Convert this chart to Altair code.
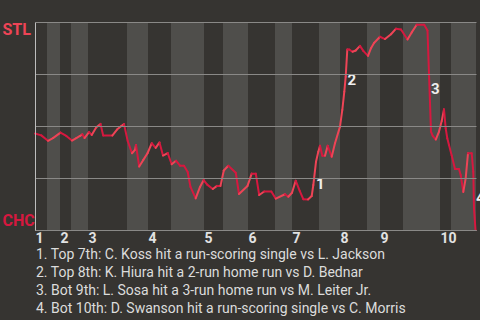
import altair as alt
import pandas as pd

# ---- data ----
inning_labels = ["1", "2", "3", "4", "5", "6", "7", "8", "9", "10"]
inning_start = [0, 25, 53, 113, 169, 213, 257, 305, 345, 405]
bottom_start = [12, 36, 92, 136, 188, 240, 284, 332, 368, 416]
game_end = 441

# game progress (plays) and St. Louis win probability (%)
wp_x = [0, 6.3, 13, 18, 25.5, 31.3, 37, 41.3, 45, 47.3, 49.5, 54, 56.7, 61.3, 65.5,
        68.2, 77.3, 82, 86.3, 89, 92.7, 97, 100, 101, 104.2, 108.3, 112.5, 116.7,
        120.7, 124.5, 128, 132.7, 136.7, 141, 145, 149, 152.7, 155.5, 160.7, 165,
        168.7, 172.2, 177.8, 182, 185.5, 188.8, 193.3, 200.8, 204, 212.5, 216.7,
        220.8, 224.2, 229.2, 236.3, 240.8, 250, 253.3, 257, 260.7, 264.7, 268.3,
        273, 276.7, 278.3, 281, 283.3, 285, 287.3, 290, 292.7, 296.7, 300, 305,
        307.3, 309.3, 310.7, 312.3, 314, 317.5, 320.7, 325, 328.3, 333, 336, 339,
        345, 350, 356, 361, 366, 372.5, 376.7, 381.7, 389.2, 392.5, 396, 397.7,
        400.8, 404, 406.7, 409, 410.7, 412.3, 414, 416.7, 420, 424, 425.7, 428.3,
        430.7, 433, 436.7, 438.3, 439, 440.5]
wp_stl = [46.4, 45.5, 42.9, 44.2, 46.8, 45.2, 43.0, 44.2, 45.2, 46.0, 44.2, 47.1,
          45.7, 49.4, 51.0, 45.4, 45.4, 48.3, 50.0, 50.9, 42.8, 36.9, 38.5, 40.9,
          30.5, 33.7, 36.9, 41.7, 39.5, 42.1, 35.8, 37.0, 31.6, 33.3, 30.9, 30.9,
          27.9, 20.7, 15.2, 20.7, 24.0, 21.8, 19.7, 21.2, 21.2, 28.6, 30.9, 27.5,
          17.3, 21.2, 27.1, 27.1, 16.8, 18.5, 18.5, 15.1, 17.2, 16.0, 17.9, 23.7,
          18.8, 14.8, 14.7, 16.3, 21.6, 32.8, 37.6, 40.5, 35.7, 35.7, 40.5, 35.2,
          41.7, 49.7, 57.7, 66.5, 73.7, 86.8, 86.8, 85.7, 86.3, 88.5, 86.1, 83.7,
          87.4, 89.9, 92.9, 91.8, 94.1, 96.8, 96.4, 91.6, 95.0, 98.7, 98.7, 95.9,
          47.3, 45.3, 43.5, 47.3, 52.4, 58.0, 48.9, 44.1, 40.9, 35.8, 29.3, 29.3,
          26.4, 18.3, 24.9, 36.9, 36.9, 28.0, 10.4, 0]

ann_labels = ["1", "2", "3", "4"]
ann_x = [281, 312.5, 396, 441]
ann_y = [22, 72, 68, 15.5]

footnotes = [
    "1. Top 7th: C. Koss hit a run-scoring single vs L. Jackson",
    "2. Top 8th: K. Hiura hit a 2-run home run vs D. Bednar",
    "3. Bot 9th: L. Sosa hit a 3-run home run vs M. Leiter Jr.",
    "4. Bot 10th: D. Swanson hit a run-scoring single vs C. Morris",
]

STL_COLOR = "#ee4456"
CHC_COLOR = "#d6183f"
BG = "#363431"
BAND = "#4f4e4b"
FONT = "Roboto"

# ---- tables ----
band_end = inning_start[1:] + [game_end]
bands = pd.DataFrame({"start": bottom_start, "end": band_end})

seg = pd.DataFrame({
    "x0": wp_x[:-1], "x1": wp_x[1:],
    "y0": wp_stl[:-1], "y1": wp_stl[1:],
})
seg["team"] = ["STL" if b > a else "CHC" for a, b in zip(seg["y0"], seg["y1"])]

ann = pd.DataFrame({"label": ann_labels, "x": ann_x, "y": ann_y})

xscale = alt.Scale(domain=[0, game_end], nice=False, zero=False)
yscale = alt.Scale(domain=[0, 100], nice=False)

label_expr = "[%s][indexof([%s], datum.value)]" % (
    ",".join("'%s'" % s for s in inning_labels),
    ",".join(str(v) for v in inning_start),
)

x_axis = alt.Axis(
    values=inning_start, labelExpr=label_expr, title=None, grid=False,
    ticks=False, tickSize=0, labelPadding=1, labelAlign="left", labelBaseline="top",
    labelFlush=False, labelOverlap=False, labelFont=FONT, labelFontSize=14,
    labelFontWeight="bold", labelColor="#e2e2e2", domainColor="#dddddd",
)
y_axis = alt.Axis(
    values=[0, 25, 50, 75, 100], title=None, grid=True, gridColor="#8a8987",
    ticks=False, tickSize=0, domainColor="#bdbdbd", zindex=1,
    labelExpr="datum.value == 100 ? 'STL' : (datum.value == 0 ? 'CHC' : '')",
    labelAlign="left", labelPadding=33, labelBaseline="alphabetic",
    labelOverlap=False, labelFont=FONT, labelFontSize=16, labelFontWeight="bold",
    labelColor={"condition": {"test": "datum.value == 100", "value": STL_COLOR}, "value": CHC_COLOR},
    labelOffset={"condition": {"test": "datum.value == 100", "value": 12}, "value": -4.7},
)

band_layer = alt.Chart(bands).mark_rect(color=BAND).encode(
    x=alt.X("start:Q", scale=xscale, axis=x_axis),
    x2="end:Q",
)

line_layer = alt.Chart(seg).mark_rule(strokeWidth=2, strokeCap="round").encode(
    x=alt.X("x0:Q", scale=xscale, axis=x_axis),
    x2="x1:Q",
    y=alt.Y("y0:Q", scale=yscale, axis=y_axis),
    y2="y1:Q",
    color=alt.Color("team:N", scale=alt.Scale(domain=["STL", "CHC"], range=[STL_COLOR, CHC_COLOR]), legend=None),
)

ann_layer = alt.Chart(ann).mark_text(
    align="left", baseline="middle", font=FONT, fontSize=15, fontWeight="bold", color="#eeeeee"
).encode(
    x=alt.X("x:Q", scale=xscale),
    y=alt.Y("y:Q", scale=yscale),
    text="label:N",
)

chart = alt.layer(band_layer, line_layer, ann_layer).properties(
    width=441, height=208,
    autosize=alt.AutoSizeParams(type="none"),
    padding={"left": 35, "top": 22, "right": 4, "bottom": 90},
    background=BG,
    title=alt.TitleParams(
        text=footnotes, orient="bottom", anchor="start", frame="group",
        font=FONT, fontSize=14, fontWeight="normal", color="#dcdcdc",
        lineHeight=18, offset=3, dx=1,
    ),
).configure_view(stroke=None)

chart.save("out.html", embed_options={"renderer": "svg", "actions": False})
